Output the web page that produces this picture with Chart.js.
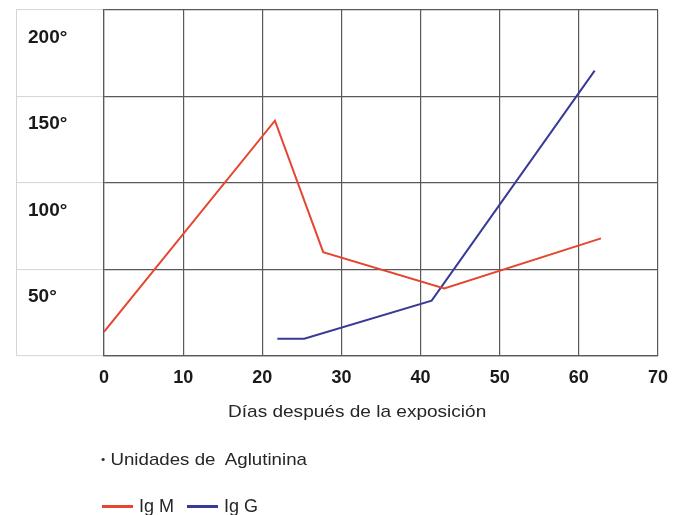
<!DOCTYPE html>
<html lang="es">
<head>
<meta charset="utf-8">
<script src="https://cdn.jsdelivr.net/npm/chart.js@4/dist/chart.umd.min.js"></script>
<style>
    body { margin: 0; background: #fff; font-family: "Liberation Sans", Arial, sans-serif; color: #262626; }
    #cadre { position: relative; width: 679px; height: 515px; }
    .texte { position: absolute; white-space: nowrap; line-height: 20px; transform-origin: left center; }
    .trait { position: absolute; height: 3px; width: 31px; }
</style>
</head>
<body>
<div id="cadre">
    <canvas id="grafico" width="679" height="515"></canvas>
    <div class="texte" id="tituloX" style="left:228px; top:402px; font-size:17px; transform:scaleX(1.12);"></div>
    <div class="texte" id="nota" style="left:101px; top:449px; font-size:17px; transform:scaleX(1.1);"></div>
    <div id="leyenda"></div>
</div>
<script>
// Datos
const igmDias = [0, 21.6, 27.7, 43.0, 62.8];
const igmValores = [30, 152, 76, 55, 84];
const iggDias = [21.9, 25.3, 41.4, 62.0];
const iggValores = [26, 26, 48, 181];

// Ejes
const diasTicks = [0, 10, 20, 30, 40, 50, 60, 70];
const valoresEtiquetas = [50, 100, 150, 200];
const lineasCuadro = [16, 66, 116, 166, 216]; // lineas horizontales del cuadro

const tituloX = "Días después de la exposición";
const nota = "Unidades de\u00a0 Aglutinina";

const rojo = "rgb(229, 70, 48)";
const azul = "rgb(56, 58, 150)";
const gris = "#595959";

function puntos(xs, ys) {
    return xs.map((x, i) => ({ x: x, y: ys[i] }));
}

document.getElementById("tituloX").textContent = tituloX;
document.getElementById("nota").innerHTML = '<span style="font-size:11px;vertical-align:2px">\u2022</span> ' + nota;

// Linea gris clara a la izquierda de la columna de etiquetas
const bordeIzq = {
    id: "bordeIzq",
    afterDraw(chart) {
        const ctx = chart.ctx;
        const a = chart.chartArea;
        const x = chart.scales.y.left + 0.5;
        ctx.save();
        ctx.strokeStyle = "#d4d4d4";
        ctx.lineWidth = 1;
        ctx.beginPath();
        ctx.moveTo(x, a.top);
        ctx.lineTo(x, a.bottom);
        ctx.stroke();
        ctx.restore();
    }
};

let ctx = document.getElementById("grafico").getContext("2d");
let chart = new Chart(ctx, {
    type: "line",
    data: {
        datasets: [{
            label: "Ig M",
            data: puntos(igmDias, igmValores),
            borderColor: rojo,
            backgroundColor: rojo,
            borderWidth: 2,
            pointRadius: 0,
            tension: 0
        }, {
            label: "Ig G",
            data: puntos(iggDias, iggValores),
            borderColor: azul,
            backgroundColor: azul,
            borderWidth: 2,
            pointRadius: 0,
            tension: 0
        }]
    },
    options: {
        responsive: false,
        animation: false,
        layout: { padding: { left: 16, top: 10, right: 20, bottom: 119 } },
        plugins: {
            legend: { display: false },
            tooltip: { enabled: false }
        },
        scales: {
            x: {
                type: "linear",
                min: 0,
                max: 70,
                afterBuildTicks: (s) => { s.ticks = diasTicks.map(v => ({ value: v })); },
                afterFit: (s) => { s.height = 40; },
                grid: { color: gris, lineWidth: 1.2, drawTicks: false },
                border: { color: gris, width: 1.2 },
                ticks: {
                    padding: 11,
                    color: "#1a1a1a",
                    font: { family: "'Liberation Sans', Arial, sans-serif", size: 18, weight: "bold" }
                }
            },
            y: {
                min: 16,
                max: 216,
                afterBuildTicks: (s) => {
                    s.ticks = lineasCuadro.concat(valoresEtiquetas)
                        .sort((a, b) => a - b)
                        .map(v => ({ value: v }));
                },
                afterFit: (s) => { s.width = 88; },
                grid: {
                    color: (c) => lineasCuadro.includes(c.tick && c.tick.value) ? gris : "rgba(0,0,0,0)",
                    tickColor: (c) => lineasCuadro.includes(c.tick && c.tick.value) ? "#d4d4d4" : "rgba(0,0,0,0)",
                    lineWidth: 1.2,
                    tickWidth: 1,
                    tickLength: 88
                },
                border: { color: gris, width: 1.2 },
                ticks: {
                    mirror: true,
                    padding: -76,
                    crossAlign: "near",
                    color: "#1a1a1a",
                    font: { family: "'Liberation Sans', Arial, sans-serif", size: 19, weight: "bold" },
                    callback: (v) => valoresEtiquetas.includes(v) ? v + "\u00b0" : ""
                }
            }
        }
    },
    plugins: [bordeIzq]
});

// Leyenda debajo de la nota
let leyenda = document.getElementById("leyenda");
let posX = 102;
chart.data.datasets.forEach((d) => {
    let t = document.createElement("div");
    t.className = "trait";
    t.style.left = posX + "px";
    t.style.top = "505px";
    t.style.background = d.borderColor;
    leyenda.appendChild(t);
    let e = document.createElement("div");
    e.className = "texte";
    e.style.left = (posX + 37) + "px";
    e.style.top = "496px";
    e.style.fontSize = "18px";
    e.textContent = d.label;
    leyenda.appendChild(e);
    posX += 85;
});
</script>
</body>
</html>
